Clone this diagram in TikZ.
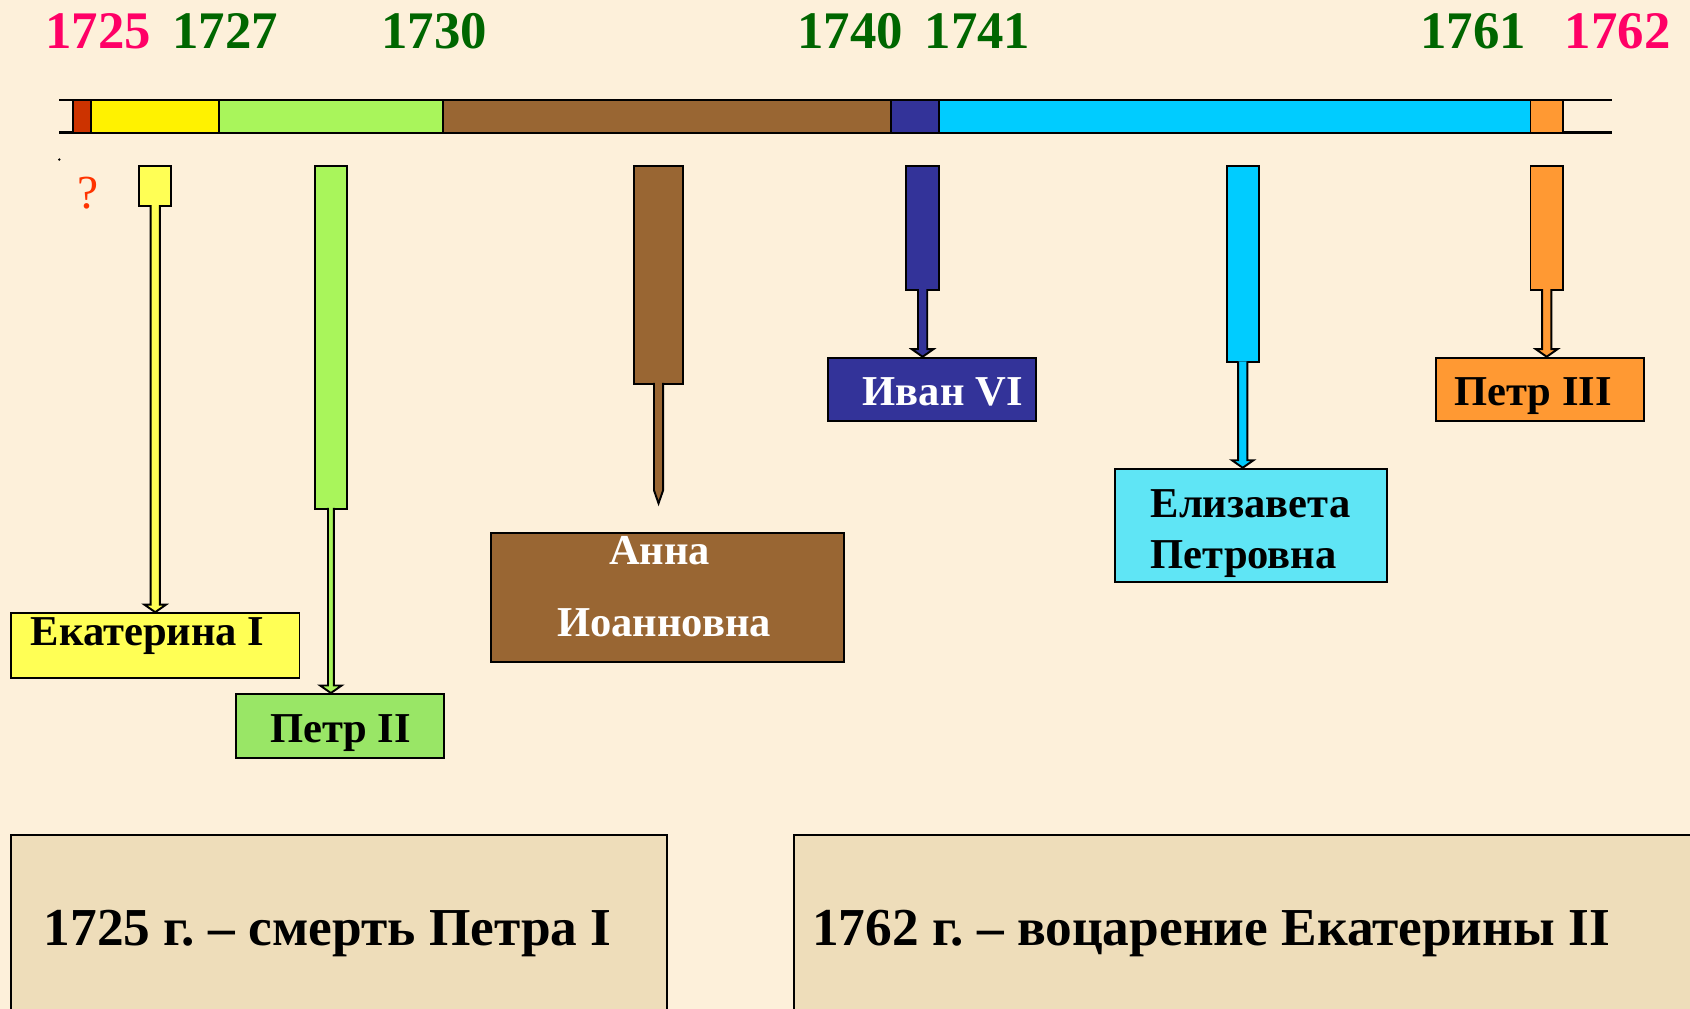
\documentclass[tikz,border=0pt]{standalone}
\usepackage{fontspec}
\setmainfont{Liberation Serif}
\usepackage{tikz}
\usetikzlibrary{calc}
\frenchspacing
\definecolor{paper}{HTML}{FDF0DA}
\definecolor{parchment}{HTML}{EEDDBA}
\definecolor{pinkyear}{HTML}{FF0066}
\definecolor{greenyear}{HTML}{006600}
\definecolor{redseg}{HTML}{CC3300}
\definecolor{ekyellow}{HTML}{FFFF55}
\definecolor{ptgreen}{HTML}{A9F55B}
\definecolor{ptbox}{HTML}{99E666}
\definecolor{annabrown}{HTML}{996633}
\definecolor{ivblue}{HTML}{333399}
\definecolor{elcyan}{HTML}{00CCFF}
\definecolor{elbox}{HTML}{5FE5F5}
\definecolor{p3orange}{HTML}{FF9933}
\definecolor{qmark}{HTML}{FF3300}
\tikzset{
  outline/.style={draw=black, line width=1.8pt},
  year/.style={anchor=base, font=\fontsize{49}{55}\selectfont\bfseries},
  reign/.style={outline, anchor=north, inner sep=0pt, minimum width=30pt},
  namebox/.style={outline, anchor=north west, inner sep=0pt},
  boxtext/.style={anchor=base west, font=\fontsize{39.5}{44}\selectfont\bfseries},
  eventtext/.style={anchor=base west, font=\fontsize{49.5}{55}\selectfont\bfseries},
}

\begin{document}
\begin{tikzpicture}[x=1pt, y=-1pt]
\newcommand\reignshaft[4]{% bar, box, colour, half width
\draw[outline, fill=#3] ($(#1.south)+(-#4,-1.5)$) -- ($(#1.south |- #2.north)+(-#4,-7)$)
 -- ($(#1.south |- #2.north)+(-10,-7)$) -- (#1.south |- #2.north)
 -- ($(#1.south |- #2.north)+(10,-7)$) -- ($(#1.south |- #2.north)+(#4,-7)$)
 -- ($(#1.south)+(#4,-1.5)$);}

\useasboundingbox[fill=paper] (0,0) rectangle (1568,936);

% years
\node[year, text=pinkyear] (y1725) at (91,45) {1725};
\node[year, text=greenyear] (y1727) at (209,45) {1727};
\node[year, text=greenyear] (y1730) at (403,45) {1730};
\node[year, text=greenyear] (y1740) at (789,45) {1740};
\node[year, text=greenyear] (y1741) at (907,45) {1741};
\node[year, text=greenyear] (y1761) at (1367,45) {1761};
\node[year, text=pinkyear] (y1762) at (1501,45) {1762};

% timeline
\draw[line width=2.2pt] (55,93) -- (1496,93);
\draw[line width=2.2pt] (55,123) -- (1496,123);
\draw[outline, fill=redseg] (68,93) rectangle (84,123);
\draw[outline, fill=yellow] (84,93) rectangle (203,123);
\draw[outline, fill=ptgreen] (203,93) rectangle (411,123);
\draw[outline, fill=annabrown] (411,93) rectangle (827,123);
\draw[outline, fill=ivblue] (827,93) rectangle (871,123);
\draw[outline, fill=elcyan] (871,93) rectangle (1420,123);
\draw[outline, fill=p3orange] (1420,93) rectangle (1450,123);

\fill (55,148) circle (1.2pt);
\node[anchor=base, text=qmark, font=\fontsize{44}{48}\selectfont] (query) at (82,193) {?};

% reigns
\node[reign, fill=ekyellow, minimum height=37pt] (ekbar) at (144,153) {};
\node[reign, fill=ptgreen, minimum height=318pt] (p2bar) at (307,153) {};
\node[reign, fill=annabrown, minimum width=46pt, minimum height=202pt] (annabar) at (611,153) {};
\node[reign, fill=ivblue, minimum height=115pt] (ivbar) at (856,153) {};
\node[reign, fill=elcyan, minimum height=182pt] (elbar) at (1153,153) {};
\node[reign, fill=p3orange, minimum height=115pt] (p3bar) at (1435,153) {};

\node[namebox, fill=ekyellow, minimum width=268pt, minimum height=60pt] (ekbox) at (9,568) {};
\node[namebox, fill=ptbox, minimum width=193pt, minimum height=59pt] (p2box) at (218,643) {};
\node[namebox, fill=annabrown, minimum width=327pt, minimum height=119pt] (annabox) at (455,494) {};
\node[namebox, fill=ivblue, minimum width=193pt, minimum height=59pt] (ivbox) at (767,331) {};
\node[namebox, fill=elbox, minimum width=252pt, minimum height=105pt] (elbx) at (1034,434) {};
\node[namebox, fill=p3orange, minimum width=193pt, minimum height=59pt] (p3box) at (1331,331) {};

\reignshaft{ekbar}{ekbox}{ekyellow}{4.3}
\reignshaft{p2bar}{p2box}{ptgreen}{2.7}
\reignshaft{ivbar}{ivbox}{ivblue}{4.3}
\reignshaft{elbar}{elbx}{elcyan}{4.3}
\reignshaft{p3bar}{p3box}{p3orange}{4.3}

\coordinate (annatip) at (611,467);
\draw[outline, fill=annabrown] ($(annabar.south)+(-4.2,-1.5)$) -- ($(annatip)+(-4.2,-12)$)
 -- (annatip) -- ($(annatip)+(4.2,-12)$) -- ($(annabar.south)+(4.2,-1.5)$);

\node[boxtext] (ektext) at (25,599) {Екатерина I};
\node[boxtext] (p2text) at (247,689) {Петр II};
\node[boxtext, anchor=base, text=white] (annatext) at (612,524) {Анна};
\node[boxtext, anchor=base, text=white] (annatext2) at (616,591) {Иоанновна};
\node[boxtext, text=white] (ivtext) at (797,376) {Иван VI};
\node[boxtext] (eltext) at (1064,480) {Елизавета};
\node[boxtext] (eltext2) at (1064,527) {Петровна};
\node[boxtext] (p3text) at (1346,376) {Петр III};

% events
\fill[parchment] (10,775) rectangle (619,936);
\draw[line width=1.6pt] (10,936) -- (10,775) -- (619,775) -- (619,936);
\fill[parchment] (737,775) rectangle (1568,936);
\draw[line width=1.6pt] (737,936) -- (737,775) -- (1568,775);
\node[eventtext] (death) at (37,877) {1725 г. – смерть Петра I};
\node[eventtext] (accession) at (750,877) {1762 г. – воцарение Екатерины II};
\end{tikzpicture}
\end{document}
